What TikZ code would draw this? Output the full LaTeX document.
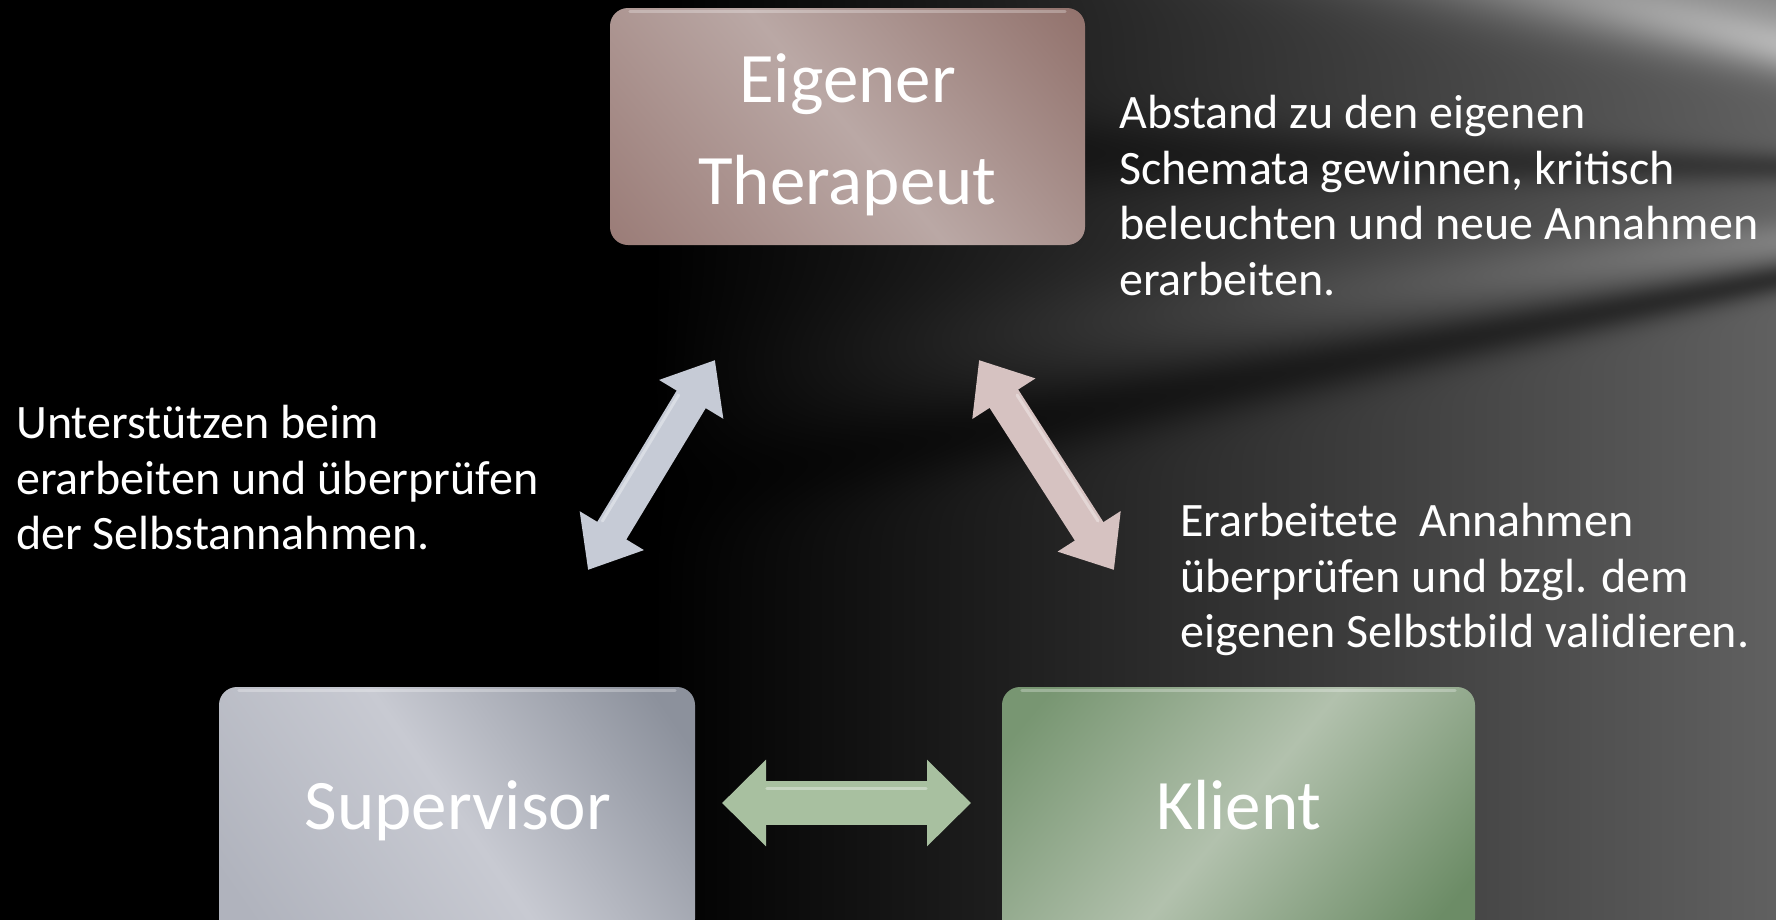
\documentclass[tikz,border=0pt]{standalone}
\usepackage{fontspec}
\setmainfont{Carlito}
\usetikzlibrary{arrows.meta,calc}
\definecolor{thA}{RGB}{150,118,113}
\definecolor{thB}{RGB}{186,168,165}
\definecolor{thC}{RGB}{140,106,100}
\definecolor{suA}{RGB}{176,179,189}
\definecolor{suB}{RGB}{200,202,210}
\definecolor{suC}{RGB}{140,145,156}
\definecolor{klA}{RGB}{120,150,114}
\definecolor{klB}{RGB}{178,193,173}
\definecolor{klC}{RGB}{108,140,102}
\definecolor{arL}{RGB}{198,203,214}
\definecolor{arR}{RGB}{214,194,193}
\definecolor{arH}{RGB}{168,192,160}
\definecolor{bgG}{RGB}{97,97,97}
\pgfdeclarehorizontalshading{therS}{100bp}{color(0bp)=(thA); color(10bp)=(thA); color(50bp)=(thB); color(90bp)=(thC); color(100bp)=(thC)}
\pgfdeclarehorizontalshading{supS}{100bp}{color(0bp)=(suA); color(20bp)=(suA); color(50bp)=(suB); color(80bp)=(suC); color(100bp)=(suC)}
\pgfdeclarehorizontalshading{kliS}{100bp}{color(0bp)=(klA); color(20bp)=(klA); color(50bp)=(klB); color(80bp)=(klC); color(100bp)=(klC)}
\pgfdeclarehorizontalshading{bgH}{100bp}{color(0bp)=(black); color(37bp)=(black); color(100bp)=(bgG)}
\pgfdeclarefunctionalshading{bgF}{\pgfpoint{0bp}{0bp}}{\pgfpoint{1776bp}{919bp}}{}{
919 exch sub
1 index 650 sub 1126 div dup abs add 2 div
2 index 2300 exch sub
2 index 180 sub exch div
0.38 exch
dup -0.25 sub 0.055 div dup mul neg 2.71828 exch exp 0.32 mul 3 -1 roll add exch
dup -0.33 sub 0.050 div dup mul neg 2.71828 exch exp 0.14 mul 3 -1 roll add exch
dup -0.02 sub 0.030 div dup mul neg 2.71828 exch exp -0.15 mul 3 -1 roll add exch
dup 0.12 sub 0.040 div dup mul neg 2.71828 exch exp 0.12 mul 3 -1 roll add exch
dup 0.19 sub 0.030 div dup mul neg 2.71828 exch exp -0.20 mul 3 -1 roll add exch
pop mul
3 1 roll pop pop dup dup
}
\tikzset{
  ebox/.style={rounded corners=18pt, inner sep=0pt, draw=none},
  boxlbl/.style={text=white, font=\fontsize{71}{80}\selectfont, anchor=base, inner sep=0pt},
  sidetxt/.style={text=white, font=\fontsize{48}{55.5}\selectfont, align=left, anchor=north west, inner sep=0pt},
  blockarrow/.style={line width=34pt, {Triangle[length=46pt,width=72pt]}-{Triangle[length=46pt,width=72pt]}},
  flatarrow/.style={line width=44pt, {Triangle[length=44pt,width=84pt]}-{Triangle[length=44pt,width=84pt]}},
  hilite/.style={white, opacity=0.28, line width=3pt, line cap=round},
  arrlite/.style={white, opacity=0.35, line width=3pt, line cap=round}
}
\begin{document}
\begin{tikzpicture}[x=1pt,y=-1pt]
\useasboundingbox (0,0) rectangle (1776,919);
\clip (0,0) rectangle (1776,919);
% background
\shade[shading=bgH] (0,0) rectangle (1776,919);
\node[inner sep=0pt, outer sep=0pt, anchor=south west] (bg) at (0,919) {\pgfuseshading{bgF}};
% boxes
\node[ebox, minimum width=475pt, minimum height=237pt, shading=therS, shading angle=40] (ther) at (847.5,126.5) {};
\node[ebox, minimum width=476pt, minimum height=250pt, shading=supS, shading angle=35] (sup) at (457,812) {};
\node[ebox, minimum width=473pt, minimum height=250pt, shading=kliS, shading angle=-40] (kli) at (1238.5,812) {};
\draw[hilite] ([xshift=20pt,yshift=-4pt]ther.north west) -- ([xshift=-20pt,yshift=-4pt]ther.north east);
\draw[hilite] ([xshift=20pt,yshift=-4pt]sup.north west) -- ([xshift=-20pt,yshift=-4pt]sup.north east);
\draw[hilite] ([xshift=20pt,yshift=-4pt]kli.north west) -- ([xshift=-20pt,yshift=-4pt]kli.north east);
% labels in boxes
\node[boxlbl] (therl1) at (847.5,102) {Eigener};
\node[boxlbl] (therl2) at (847.5,204) {Therapeut};
\node[boxlbl] (supl) at (458,829) {Supervisor};
\node[boxlbl] (klil) at (1239,829) {Klient};
% arrows
\coordinate (la) at (588,570);
\coordinate (lb) at (715,360);
\coordinate (ra) at (979,360);
\coordinate (rb) at (1114,570);
\coordinate (ha) at (722,803);
\coordinate (hb) at (971,803);
\draw[blockarrow, arL] (la) -- (lb);
\draw[blockarrow, arR] (ra) -- (rb);
\draw[flatarrow, arH] (ha) -- (hb);
\draw[arrlite] ($(la)!0.2!(lb)+(-11,-7)$) -- ($(la)!0.8!(lb)+(-11,-7)$);
\draw[arrlite] ($(ra)!0.2!(rb)+(11,-7)$) -- ($(ra)!0.8!(rb)+(11,-7)$);
\draw[arrlite] ($(ha)!0.18!(hb)+(0,-15)$) -- ($(ha)!0.82!(hb)+(0,-15)$);
% side texts
\node[sidetxt] (ttxt) at (1119,95) {Abstand zu den eigenen\\Schemata gewinnen, kritisch\\beleuchten und neue Annahmen\\erarbeiten.};
\node[sidetxt] (ltxt) at (16,405) {Unterstützen beim\\erarbeiten und überprüfen\\der Selbstannahmen.};
\node[sidetxt] (rtxt) at (1180,503) {Erarbeitete~ Annahmen\\überprüfen und bzgl. dem\\eigenen Selbstbild validieren.};
\end{tikzpicture}
\end{document}
